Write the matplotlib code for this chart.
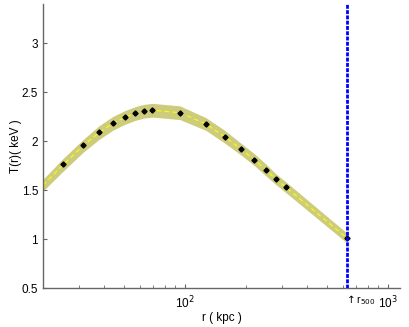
import numpy as np
import matplotlib
matplotlib.use("Agg")
import matplotlib.pyplot as plt

plt.rcParams['font.family'] = ['Liberation Sans', 'DejaVu Sans']

# data points
r_data = [25.2, 31.5, 37.7, 44.1, 50.5, 56.7, 62.9, 69.3, 94.5, 126.9, 157.3,
          188.7, 220.5, 251.3, 281.6, 314.5, 630.7]
T_data = [1.762, 1.956, 2.089, 2.184, 2.245, 2.286, 2.306, 2.319, 2.286, 2.173,
          2.044, 1.918, 1.806, 1.701, 1.609, 1.528, 1.013]
T_err = [0.015] * len(r_data)

# model band
r_model = [20, 25.2, 31.5, 37.7, 44.1, 50.5, 56.7, 62.9, 69.3, 94.5, 126.9, 157.3,
           188.7, 220.5, 251.3, 281.6, 314.5, 630.7]
T_model = [1.55, 1.76, 1.95, 2.085, 2.18, 2.24, 2.28, 2.305, 2.315, 2.29, 2.175,
           2.045, 1.92, 1.81, 1.705, 1.61, 1.53, 1.01]
T_model_hw = [0.06, 0.065, 0.065, 0.07, 0.07, 0.07, 0.07, 0.07, 0.07, 0.07, 0.065,
              0.065, 0.06, 0.06, 0.06, 0.055, 0.055, 0.05]

r500 = 630.7

fig = plt.figure(figsize=(4.09, 3.27), dpi=100)
ax = fig.add_axes([0.105, 0.119, 0.873, 0.869])

rm = np.array(r_model)
tm = np.array(T_model)
hw = np.array(T_model_hw)
ax.fill_between(rm, tm - hw, tm + hw, color='#cccc7c', lw=0, zorder=1)
ax.plot(rm, tm, color='#ffff00', lw=0.8, ls=(0, (4, 3)), zorder=2)
ax.errorbar(r_data, T_data, yerr=T_err, fmt='D', color='black', ms=2.6,
            elinewidth=0.8, capsize=0, zorder=3)
ax.axvline(r500, color='#0000ff', lw=2, ls=(0, (1.4, 0.5)), zorder=4)

ax.set_xscale('log')
ax.set_xlim(20, 1150)
ax.set_ylim(0.5, 3.4)
ax.set_yticks([0.5, 1, 1.5, 2, 2.5, 3])
ax.set_yticklabels(['0.5', '1', '1.5', '2', '2.5', '3'])
ax.set_xticks([100, 1000])
ax.set_xticklabels(['10$^{2}$', '10$^{3}$'])

for s in ['top', 'right']:
    ax.spines[s].set_visible(False)
for s in ['left', 'bottom']:
    ax.spines[s].set_color('#666666')
    ax.spines[s].set_linewidth(1.0)
ax.tick_params(which='both', direction='in', color='#666666', labelsize=8.5,
               labelcolor='black')
ax.tick_params(which='major', length=3)
ax.tick_params(which='minor', length=2)
ax.tick_params(axis='x', pad=5)

ax.annotate('$\\uparrow$r$_{500}$', xy=(r500, 0.5), xytext=(-2, -4),
            textcoords='offset points', ha='left', va='top', fontsize=7.5)

ax.set_xlabel('r ( kpc )', fontsize=8.5)
ax.xaxis.set_label_coords(0.5, -0.085)
ax.set_ylabel('T(r)( keV )', fontsize=8.5)
ax.yaxis.set_label_coords(-0.059, 0.5)

fig.savefig('out.png', dpi=100)
